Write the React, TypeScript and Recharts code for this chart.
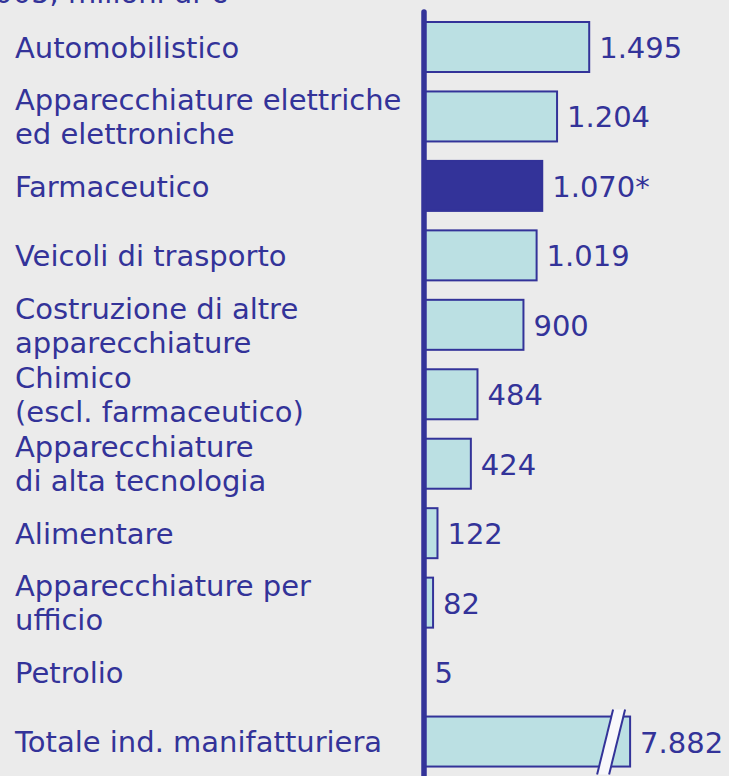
import React from 'react';
import { BarChart, Bar, XAxis, YAxis, ReferenceLine, LabelList } from 'recharts';

const title = '2005, milioni di €';
const categories = [
  'Automobilistico',
  'Apparecchiature elettriche\ned elettroniche',
  'Farmaceutico',
  'Veicoli di trasporto',
  'Costruzione di altre\napparecchiature',
  'Chimico\n(escl. farmaceutico)',
  'Apparecchiature\ndi alta tecnologia',
  'Alimentare',
  'Apparecchiature per\nufficio',
  'Petrolio',
  'Totale ind. manifatturiera',
];
const values = [1495, 1204, 1070, 1019, 900, 484, 424, 122, 82, 5, 7882];
const valueNotes = ['', '', '*', '', '', '', '', '', '', '', ''];
const highlighted = [false, false, true, false, false, false, false, false, false, false, false];
const brokenAxisCap = 1865;
const axisMax = 2760;

const DARK = '#333399';
const LIGHT = '#bbe0e3';
const BG = '#ebebeb';
const FONT = '"DejaVu Sans", Verdana, sans-serif';
const FS = 29;

const data = categories.map((name, i) => ({
  name,
  value: values[i],
  shown: Math.min(values[i], brokenAxisCap),
  note: valueNotes[i],
  highlight: highlighted[i],
  broken: values[i] > brokenAxisCap,
}));

const fmt = (v: number) => String(v).replace(/\B(?=(\d{3})+(?!\d))/g, '.');

const CategoryTick = (props: any) => {
  const { y, payload } = props;
  const lines = String(payload.value).split('\n');
  const lh = 34;
  const start = y - ((lines.length - 1) * lh) / 2 + 11;
  return (
    <g>
      {lines.map((l, i) => (
        <text key={i} x={15} y={start + i * lh} fill={DARK} fontSize={FS} fontFamily={FONT} textAnchor="start">
          {l}
        </text>
      ))}
    </g>
  );
};

const BarShape = (props: any) => {
  const { x, y, width, height, payload } = props;
  const fill = payload.highlight ? DARK : LIGHT;
  const rect = (
    <rect x={x} y={y} width={Math.max(width, 0)} height={height} fill={fill} stroke={DARK} strokeWidth={2} />
  );
  if (!payload.broken) return rect;
  const r = x + width;
  const t = y - 7;
  const b = y + height + 8;
  const tc = r - 11;
  const bc = r - 27;
  const hw = 6;
  return (
    <g>
      {rect}
      <polygon points={`${tc - hw},${t} ${tc + hw},${t} ${bc + hw},${b} ${bc - hw},${b}`} fill="#f8f8fb" />
      <line x1={tc - hw} y1={t} x2={bc - hw} y2={b} stroke={DARK} strokeWidth={2} />
      <line x1={tc + hw} y1={t} x2={bc + hw} y2={b} stroke={DARK} strokeWidth={2} />
    </g>
  );
};

const ValueLabel = (props: any) => {
  const { x, y, width, height, index } = props;
  const d = data[index];
  if (!d) return null;
  return (
    <text x={x + width + 10} y={y + height / 2 + 11} fill={DARK} fontSize={FS} fontFamily={FONT} textAnchor="start">
      {fmt(d.value) + d.note}
    </text>
  );
};

export default function App() {
  return (
    <div style={{ position: 'absolute', left: 0, top: 0, width: 729, height: 776, background: BG, overflow: 'hidden' }}>
      <div
        style={{
          position: 'absolute',
          right: 729 - 228,
          top: -24,
          color: DARK,
          fontFamily: FONT,
          fontSize: FS,
          lineHeight: '34px',
          whiteSpace: 'nowrap',
        }}
      >
        {title}
      </div>
      <BarChart
        width={729}
        height={776}
        data={data}
        layout="vertical"
        margin={{ top: 12, right: 0, bottom: 0, left: 0 }}
        barSize={50}
      >
        <XAxis type="number" domain={[0, axisMax]} hide />
        <YAxis
          type="category"
          dataKey="name"
          width={424}
          axisLine={false}
          tickLine={false}
          tick={<CategoryTick />}
          interval={0}
        />
        <Bar dataKey="shown" isAnimationActive={false} shape={<BarShape />}>
          <LabelList dataKey="shown" content={<ValueLabel />} />
        </Bar>
        <ReferenceLine x={0} stroke={DARK} strokeWidth={5.5} strokeLinecap="round" />
      </BarChart>
    </div>
  );
}
